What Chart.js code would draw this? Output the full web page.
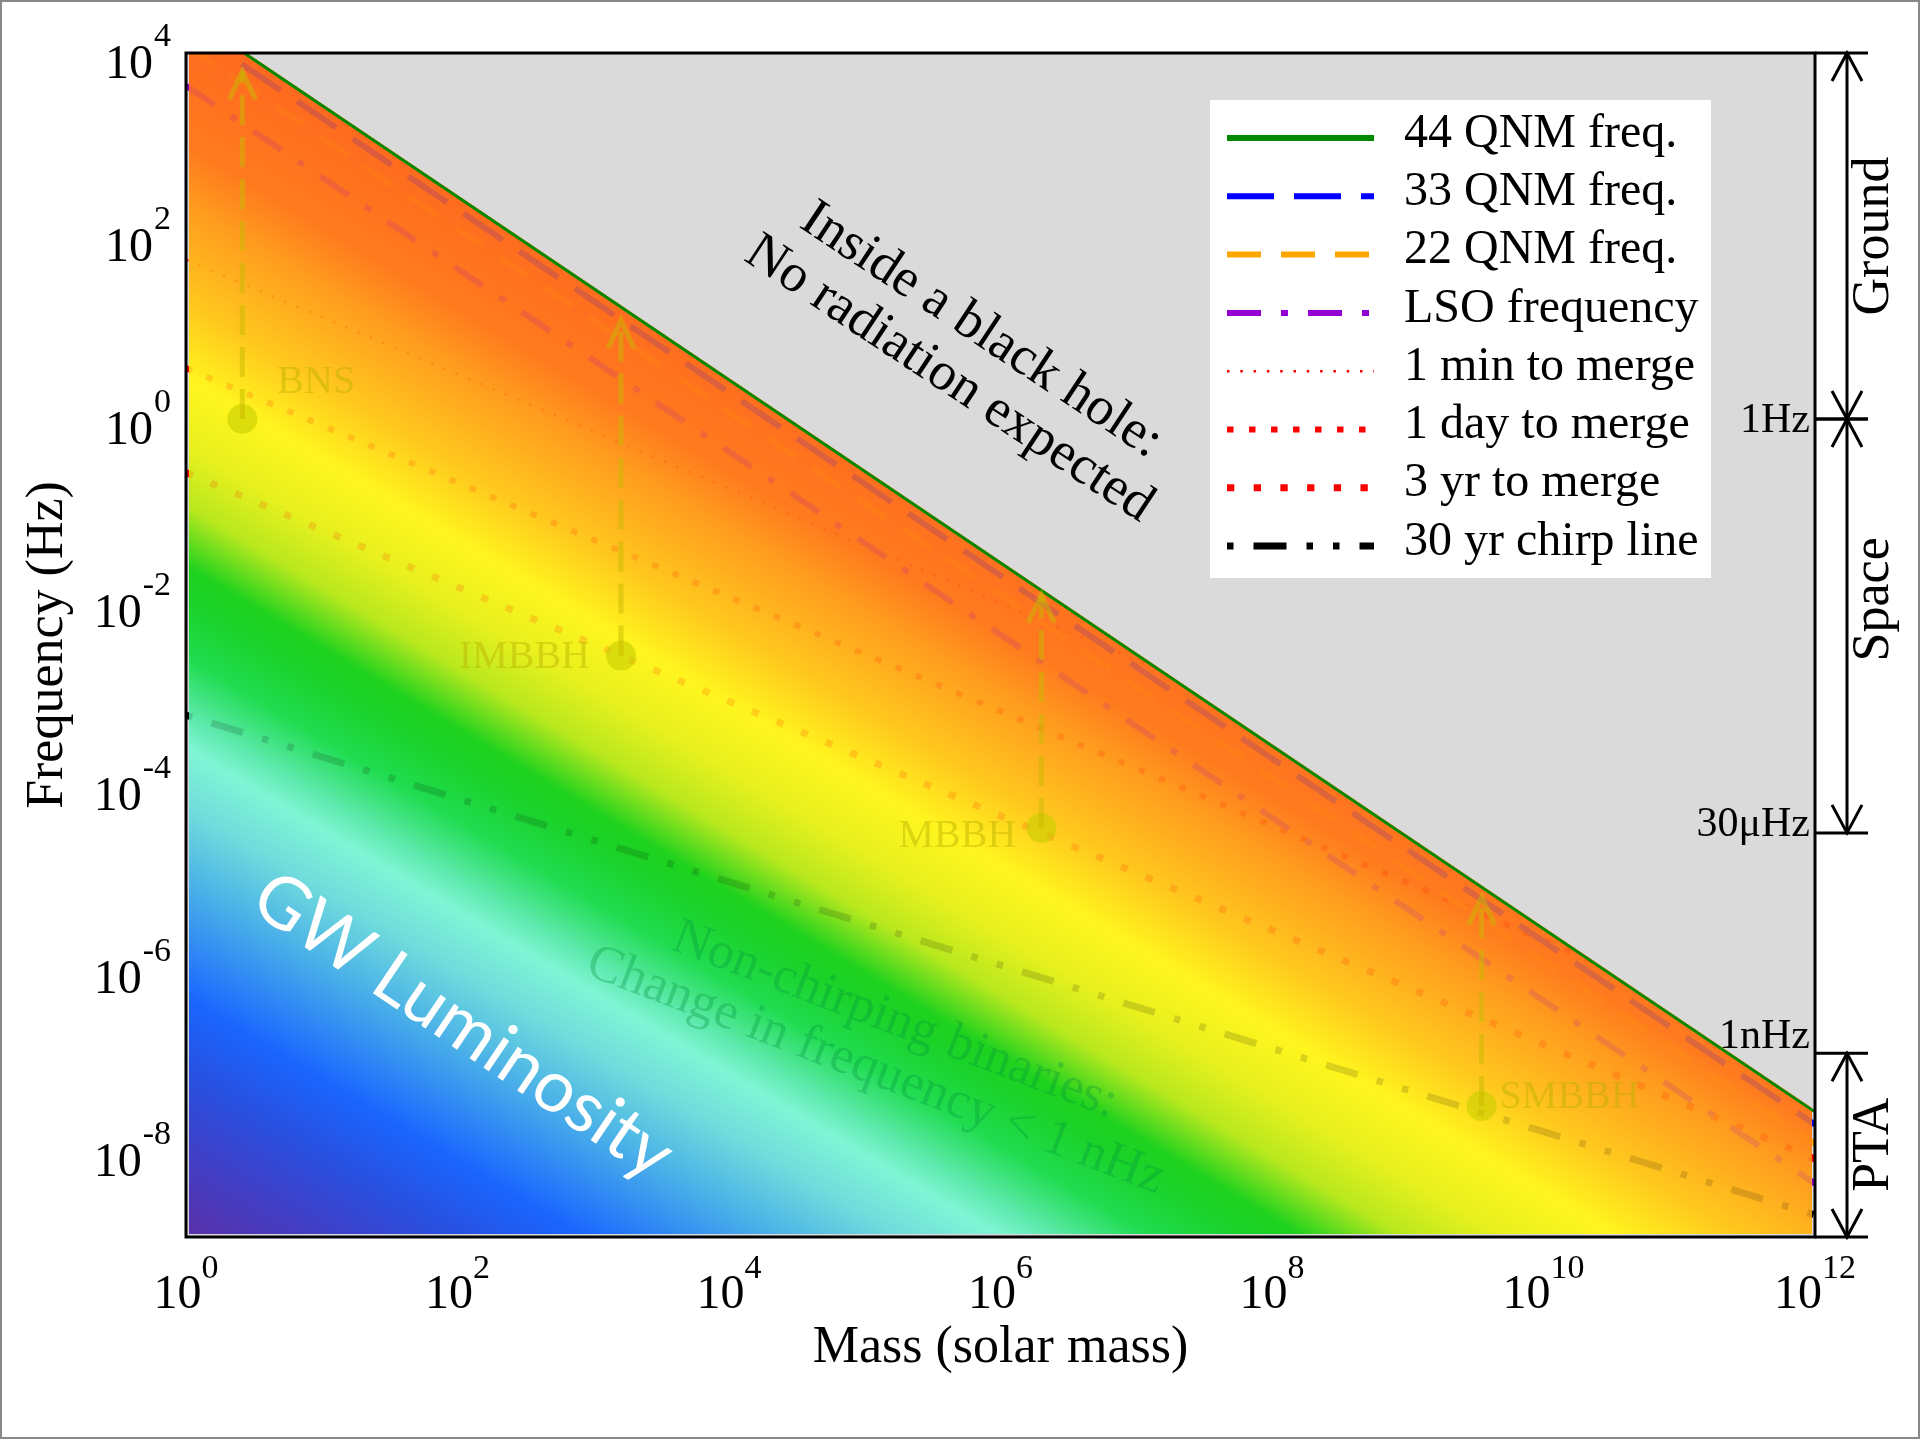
<!DOCTYPE html>
<html>
<head>
<meta charset="utf-8">
<title>GW frequency vs mass</title>
<script src="https://cdn.jsdelivr.net/npm/chart.js@4.4.0/dist/chart.umd.min.js"></script>
<style>
  body { margin: 0; background: #fff; }
  canvas { display: block; }
</style>
</head>
<body>
<canvas id="gwChart" width="1920" height="1439"></canvas>
<script>
// axis ranges: mass in solar masses, frequency in Hz
const massMin = 1, massMax = 1e12;
const freqMin = 1.15e-9, freqMax = 1e4;
const massTickExp = [0, 2, 4, 6, 8, 10, 12];
const freqTickExp = [4, 2, 0, -2, -4, -6, -8];

// straight lines in log-log, [mass, freq] at each end
const qnm44 = [[1, 2.8e4], [1e12, 2.8e-8]];
const qnm33 = [[1, 1.95e4], [1e12, 1.95e-8]];
const qnm22 = [[1, 1.2e4], [1e12, 1.2e-8]];
const lso = [[1, 4.4e3], [1e12, 4.4e-9]];
const merge1min = [[1, 55], [1e12, 1.74e-6]];
const merge1day = [[1, 3.6], [1e12, 1.14e-7]];
const merge3yr = [[1, 0.26], [1e12, 8.2e-9]];
const chirp30yr = [[1, 5.8e-4], [1e12, 2.0e-9]];

// example sources and where their arrows end
const sourceNames = ['BNS', 'IMBBH', 'MBBH', 'SMBBH'];
const sourceMass = [2.6, 1.6e3, 2.0e6, 3.5e9];
const sourceFreq = [1.0, 2.6e-3, 3.4e-5, 3.1e-8];
const arrowTopFreq = [6.3e3, 12, 1.2e-2, 6.0e-6];

// luminosity colour bands: log10 of the frequency where each band crosses M = 1
const lumLogFreq = [4.5, 3.0, 2.35, 1.27, 0.45, -0.29, -0.95, -1.61, -1.94, -2.6, -3.26, -3.6, -4.25, -5.08, -6.32, -7.14, -7.97, -8.94];
const lumColor = ['#ff681e', '#ff7a1e', '#ff9c1e', '#ffc81e', '#fff51e', '#e8f01e', '#b8e81e', '#1ed21e', '#1ad228', '#20dc50', '#60eab0', '#80f5d5', '#70dcdc', '#4ab0e8', '#1a66ff', '#2850e0', '#4040c8', '#5a30a8'];
// bands follow f ~ M^-lumSlope
const lumSlope = 0.89;

// detector coverage on the right
const bandNames = ['Ground', 'Space', 'PTA'];
const bandTop = [1e4, 1, 1.17e-7];
const bandBottom = [1, 3e-5, 1.15e-9];
const bandLabelFreq = [100, 1.07e-2, 1.17e-8];
const edgeNames = ['1Hz', '30\u03bcHz', '1nHz'];
const edgeFreq = [1, 3e-5, 1.17e-7];

const SERIF = '"Liberation Serif", "Times New Roman", serif';
const SOURCE_INK = 'rgba(200,185,0,0.5)';
const pts = arr => arr.map(([x, y]) => ({ x: x, y: y }));

function lumPath(chart, ctx) {
  const { chartArea: a, scales: { x, y } } = chart;
  const x0 = x.getPixelForValue(qnm44[0][0]), y0 = y.getPixelForValue(qnm44[0][1]);
  const x1 = x.getPixelForValue(qnm44[1][0]), y1 = y.getPixelForValue(qnm44[1][1]);
  ctx.beginPath();
  ctx.moveTo(x0 - 100, y0);
  ctx.lineTo(x0, y0);
  ctx.lineTo(x1, y1);
  ctx.lineTo(x1 + 100, y1);
  ctx.lineTo(a.right + 100, a.bottom + 100);
  ctx.lineTo(a.left - 100, a.bottom + 100);
  ctx.closePath();
}

function clipBelowBoundary(chart) {
  const { ctx, chartArea: a } = chart;
  ctx.save();
  ctx.beginPath();
  ctx.rect(a.left, a.top, a.width, a.height);
  ctx.clip();
  lumPath(chart, ctx);
  ctx.clip();
}

function bandGradient(chart, ctx) {
  const { chartArea: a, scales: { x, y } } = chart;
  const s = lumSlope * (y.getPixelForValue(1) - y.getPixelForValue(10)) / (x.getPixelForValue(10) - x.getPixelForValue(1));
  const ys = lumLogFreq.map(v => y.getPixelForValue(Math.pow(10, v)));
  const y0 = ys[0], y1 = ys[ys.length - 1];
  const k = (y1 - y0) / (1 + s * s);
  const g = ctx.createLinearGradient(a.left, y0, a.left - s * k, y0 + k);
  ys.forEach((v, i) => g.addColorStop((v - y0) / (y1 - y0), lumColor[i]));
  return g;
}

let fieldCanvas = null;
function renderField(chart) {
  const a = chart.chartArea;
  fieldCanvas = document.createElement('canvas');
  fieldCanvas.width = chart.width;
  fieldCanvas.height = chart.height;
  const c = fieldCanvas.getContext('2d');
  c.beginPath();
  c.rect(a.left + 3, a.top, a.width - 6, a.height - 3);
  c.clip();
  lumPath(chart, c);
  c.fillStyle = bandGradient(chart, c);
  c.fill();
}

function rotatedText(ctx, lines, x, y, deg, font, color, gap) {
  ctx.save();
  ctx.translate(x, y);
  ctx.rotate(deg * Math.PI / 180);
  ctx.font = font;
  ctx.fillStyle = color;
  ctx.textAlign = 'center';
  ctx.textBaseline = 'middle';
  lines.forEach((t, i) => ctx.fillText(t, 0, (i - (lines.length - 1) / 2) * gap));
  ctx.restore();
}

function chevron(ctx, x, y, dir, half, len) {
  ctx.beginPath();
  ctx.moveTo(x - half, y + dir * len);
  ctx.lineTo(x, y);
  ctx.lineTo(x + half, y + dir * len);
  ctx.stroke();
}

const fieldPlugin = {
  id: 'field',
  beforeDraw(chart) {
    const { ctx, chartArea: a } = chart;
    renderField(chart);
    ctx.save();
    ctx.fillStyle = '#fff';
    ctx.fillRect(0, 0, chart.width, chart.height);
    ctx.fillStyle = '#dadada';
    ctx.fillRect(a.left, a.top, a.width, a.height);
    ctx.drawImage(fieldCanvas, 0, 0);
    ctx.restore();
  },
  beforeDatasetsDraw(chart) {
    // lines stay below the black-hole boundary
    clipBelowBoundary(chart);
  },
  beforeDatasetDraw(chart, args) {
    if (chart.data.datasets[args.index].key !== 'qnm44') return;
    const ctx = chart.ctx;
    ctx.restore();
    // wash the colour map back over the lines underneath
    ctx.save();
    ctx.globalAlpha = 0.86;
    ctx.drawImage(fieldCanvas, 0, 0);
    ctx.restore();
    // only the lower half of the boundary line shows
    clipBelowBoundary(chart);
  },
  afterDatasetDraw(chart, args) {
    if (chart.data.datasets[args.index].key === 'qnm44') chart.ctx.restore();
  },
  afterDraw(chart) {
    const { ctx, chartArea: a, scales: { x, y } } = chart;
    const sets = chart.data.datasets;

    // arrow heads and source names
    ctx.save();
    ctx.strokeStyle = SOURCE_INK;
    ctx.lineWidth = 5;
    sourceMass.forEach((m, i) => {
      chevron(ctx, x.getPixelForValue(m), y.getPixelForValue(arrowTopFreq[i]), 1, 13, 28);
    });
    ctx.font = '40px ' + SERIF;
    ctx.fillStyle = 'rgba(185,175,0,0.45)';
    ctx.textBaseline = 'middle';
    const nameOffset = [[35, -37, 'left'], [-31, 2, 'right'], [-25, 9, 'right'], [18, -9, 'left']];
    sourceNames.forEach((n, i) => {
      const o = nameOffset[i];
      ctx.textAlign = o[2];
      ctx.fillText(n, x.getPixelForValue(sourceMass[i]) + o[0], y.getPixelForValue(sourceFreq[i]) + o[1]);
    });
    ctx.restore();

    rotatedText(ctx, ['Inside a black hole:', 'No radiation expected'],
      x.getPixelForValue(Math.pow(10, 5.74)), y.getPixelForValue(Math.pow(10, 0.7)), 33.5, '54px ' + SERIF, '#000', 58);
    rotatedText(ctx, ['GW Luminosity'],
      x.getPixelForValue(Math.pow(10, 2.04)), y.getPixelForValue(Math.pow(10, -6.63)), 34, '72px Lato, "Open Sans", sans-serif', '#fff', 0);
    rotatedText(ctx, ['Non-chirping binaries:', 'Change in frequency < 1 nHz'],
      x.getPixelForValue(Math.pow(10, 5.15)), y.getPixelForValue(Math.pow(10, -6.85)), 21, '52px ' + SERIF, 'rgba(0,150,60,0.33)', 54);

    // frame
    ctx.save();
    ctx.strokeStyle = '#000';
    ctx.lineWidth = 3;
    ctx.strokeRect(a.left, a.top, a.width, a.height);

    // tick labels as 10^n
    ctx.fillStyle = '#000';
    ctx.textBaseline = 'alphabetic';
    const big = '48px ' + SERIF, small = '34px ' + SERIF;
    massTickExp.forEach(e => {
      const px = x.getPixelForValue(Math.pow(10, e));
      ctx.font = big; const w10 = ctx.measureText('10').width;
      ctx.font = small; const we = ctx.measureText(String(e)).width;
      const x0 = px - (w10 + we) / 2;
      ctx.textAlign = 'left';
      ctx.font = big; ctx.fillText('10', x0, a.bottom + 71);
      ctx.font = small; ctx.fillText(String(e), x0 + w10, a.bottom + 41);
    });
    freqTickExp.forEach(e => {
      const py = y.getPixelForValue(Math.pow(10, e));
      ctx.textAlign = 'right';
      ctx.font = small;
      const we = ctx.measureText(String(e)).width;
      ctx.fillText(String(e), a.left - 15, py - 7);
      ctx.font = big;
      ctx.fillText('10', a.left - 16 - we, py + 25);
    });

    // axis titles
    ctx.font = '52px ' + SERIF;
    ctx.textAlign = 'center';
    ctx.fillText('Mass (solar mass)', (a.left + a.right) / 2, a.bottom + 125);
    ctx.save();
    ctx.translate(62, (a.top + a.bottom) / 2);
    ctx.rotate(-Math.PI / 2);
    ctx.fillText('Frequency (Hz)', 0, 0);
    ctx.restore();

    // detector bands on the right
    const barX = a.right + 32;
    ctx.lineWidth = 3;
    bandNames.forEach((n, i) => {
      const t = y.getPixelForValue(bandTop[i]), b = y.getPixelForValue(bandBottom[i]);
      ctx.beginPath();
      ctx.moveTo(a.right, t); ctx.lineTo(a.right + 53, t);
      ctx.moveTo(a.right, b); ctx.lineTo(a.right + 53, b);
      ctx.moveTo(barX, t); ctx.lineTo(barX, b);
      ctx.stroke();
      chevron(ctx, barX, t, 1, 15, 28);
      chevron(ctx, barX, b, -1, 15, 28);
      ctx.save();
      ctx.translate(a.right + 59, y.getPixelForValue(bandLabelFreq[i]));
      ctx.rotate(-Math.PI / 2);
      ctx.font = '52px ' + SERIF;
      ctx.textAlign = 'center';
      ctx.textBaseline = 'middle';
      ctx.fillText(n, 0, 0);
      ctx.restore();
    });
    ctx.font = '42px ' + SERIF;
    ctx.textAlign = 'right';
    ctx.textBaseline = 'middle';
    const edgeShift = [2, -8, -16];
    edgeNames.forEach((n, i) => ctx.fillText(n, a.right - 5, y.getPixelForValue(edgeFreq[i]) + edgeShift[i]));

    // legend
    const items = sets.filter(d => d.inLegend);
    const lx = 1210, ly = 100, rowH = 58.3;
    ctx.fillStyle = '#fff';
    ctx.fillRect(lx, ly, 501, 478);
    items.forEach((d, i) => {
      const ry = ly + 38 + i * rowH;
      ctx.save();
      ctx.beginPath();
      ctx.rect(lx + 17, ry - 10, 147, 20);
      ctx.clip();
      ctx.strokeStyle = d.borderColor;
      ctx.lineWidth = d.borderWidth;
      ctx.setLineDash(d.borderDash || []);
      ctx.lineDashOffset = d.borderDashOffset || 0;
      ctx.beginPath();
      ctx.moveTo(lx + 17, ry);
      ctx.lineTo(lx + 164, ry);
      ctx.stroke();
      ctx.restore();
      ctx.fillStyle = '#000';
      ctx.font = '48px ' + SERIF;
      ctx.textAlign = 'left';
      ctx.textBaseline = 'middle';
      ctx.fillText(d.label, lx + 194, ry - 4);
    });

    // outer border
    ctx.strokeStyle = '#888';
    ctx.lineWidth = 2;
    ctx.setLineDash([]);
    ctx.strokeRect(1, 1, chart.width - 2, chart.height - 2);
    ctx.restore();
  }
};

function lineSet(key, label, data, color, width, dash, dashOffset) {
  return {
    key: key, label: label, inLegend: true,
    data: pts(data), showLine: true, pointRadius: 0,
    borderColor: color, backgroundColor: color,
    borderWidth: width, borderDash: dash, borderDashOffset: dashOffset || 0,
    borderCapStyle: 'butt', order: key === 'qnm44' ? 1 : 2
  };
}

const datasets = [
  lineSet('qnm44', '44 QNM freq.', qnm44, '#008a00', 6, []),
  lineSet('qnm33', '33 QNM freq.', qnm33, '#0000ff', 6, [47, 20]),
  lineSet('qnm22', '22 QNM freq.', qnm22, '#ffa500', 6, [34, 20]),
  lineSet('lso', 'LSO frequency', lso, '#9400d3', 6, [34, 20, 7, 20]),
  lineSet('min1', '1 min to merge', merge1min, '#ff0000', 2.5, [2.5, 10.8]),
  lineSet('day1', '1 day to merge', merge1day, '#ff0000', 6, [6.5, 15.5]),
  lineSet('yr3', '3 yr to merge', merge3yr, '#ff0000', 7, [7.3, 19.4]),
  lineSet('chirp', '30 yr chirp line', chirp30yr, '#000000', 7, [33, 20, 6.5, 20, 6.5, 20], 79.5)
];

// vertical arrows from each source up to its ringdown
sourceMass.forEach((m, i) => {
  datasets.push({
    key: 'arrow' + i, label: sourceNames[i],
    data: pts([[m, sourceFreq[i]], [m, arrowTopFreq[i]]]),
    showLine: true, pointRadius: 0,
    borderColor: SOURCE_INK, borderWidth: 5, borderDash: [30, 12],
    order: 0
  });
});
datasets.push({
  key: 'sources', label: 'sources',
  data: sourceMass.map((m, i) => ({ x: m, y: sourceFreq[i] })),
  pointRadius: 15, pointBorderWidth: 0,
  backgroundColor: 'rgba(200,205,0,0.6)', borderColor: 'rgba(0,0,0,0)',
  order: 0
});

new Chart(document.getElementById('gwChart'), {
  type: 'scatter',
  data: { datasets: datasets },
  options: {
    responsive: false,
    animation: false,
    layout: { padding: { left: 186, right: 105, top: 53, bottom: 202 } },
    scales: {
      x: { type: 'logarithmic', min: massMin, max: massMax, display: false },
      y: { type: 'logarithmic', min: freqMin, max: freqMax, display: false }
    },
    plugins: { legend: { display: false }, tooltip: { enabled: false } }
  },
  plugins: [fieldPlugin]
});
</script>
</body>
</html>
